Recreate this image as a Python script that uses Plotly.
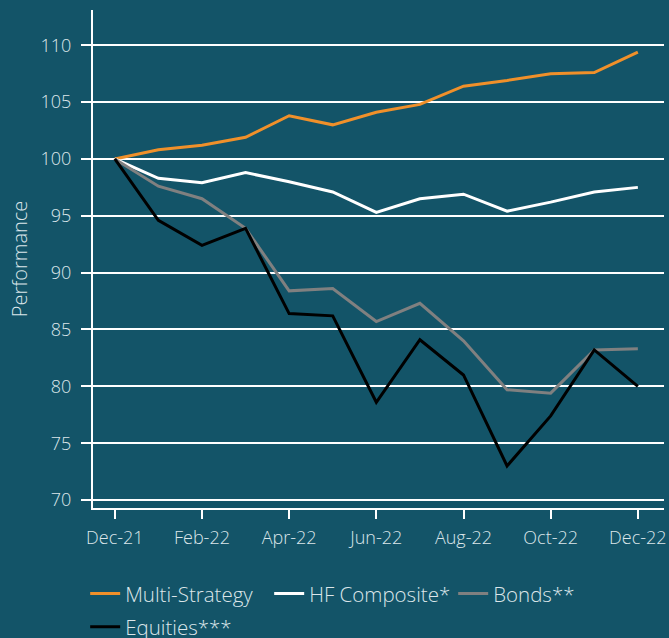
import plotly.graph_objects as go

months = ["Dec-21", "Jan-22", "Feb-22", "Mar-22", "Apr-22", "May-22", "Jun-22",
          "Jul-22", "Aug-22", "Sep-22", "Oct-22", "Nov-22", "Dec-22"]
multi_strategy = [100, 100.8, 101.2, 101.9, 103.8, 103.0, 104.1, 104.8, 106.4, 106.9, 107.5, 107.6, 109.4]
hf_composite = [100, 98.3, 97.9, 98.8, 98.0, 97.1, 95.3, 96.5, 96.9, 95.4, 96.2, 97.1, 97.5]
bonds = [100, 97.6, 96.5, 93.9, 88.4, 88.6, 85.7, 87.3, 84.0, 79.7, 79.4, 83.2, 83.3]
equities = [100, 94.6, 92.4, 93.9, 86.4, 86.2, 78.6, 84.1, 81.0, 73.0, 77.4, 83.2, 80.0]
y_ticks = [70, 75, 80, 85, 90, 95, 100, 105, 110]

BG = "#135468"
TXT = "#dce6ea"
FONT = "Open Sans"

fig = go.Figure()
series = [
    ("Multi-Strategy", multi_strategy, "#f0902a", "legend"),
    ("HF Composite*", hf_composite, "#ffffff", "legend"),
    ("Bonds**", bonds, "#808080", "legend"),
    ("Equities***", equities, "#000000", "legend2"),
]
for name, vals, col, leg in series:
    fig.add_trace(go.Scatter(x=months, y=vals, name=name, mode="lines",
                             line=dict(color=col, width=3), legend=leg))

legend_common = dict(orientation="h", xanchor="left", yanchor="top",
                     font=dict(family=FONT, size=20.5, color=TXT, weight=300),
                     bgcolor="rgba(0,0,0,0)", tracegroupgap=0, entrywidth=139)

fig.update_layout(
    width=669, height=638,
    paper_bgcolor=BG, plot_bgcolor=BG,
    margin=dict(l=93, r=5, t=10, b=130, autoexpand=False),
    font=dict(family=FONT, size=18, color=TXT, weight=300),
    showlegend=True,
    legend=dict(x=-0.0137, y=-0.132, **legend_common),
    legend2=dict(x=-0.0137, y=-0.1985, **legend_common),
)
fig.update_xaxes(
    type="category", categoryorder="array", categoryarray=months,
    range=[-0.5, 12.6], tickvals=months[::2], automargin=False,
    showgrid=False, showline=True, linecolor="white", linewidth=2,
    ticks="outside", ticklen=9, tickwidth=2, tickcolor="white", ticklabelstandoff=3,
    tickfont=dict(family=FONT, size=18, color=TXT, weight=300), zeroline=False,
)
fig.update_yaxes(
    range=[69.3, 113.1], tickvals=y_ticks, automargin=False,
    showgrid=True, gridcolor="white", gridwidth=1.5,
    showline=True, linecolor="white", linewidth=2,
    ticks="outside", ticklen=10, tickwidth=1.5, tickcolor="white", ticklabelstandoff=6,
    tickfont=dict(family=FONT, size=18, color=TXT, weight=300), zeroline=False,
    title=dict(text="Performance", font=dict(family=FONT, size=20, color=TXT, weight=300), standoff=8),
)

fig.write_html(
    "out.html",
    config={"displayModeBar": False},
    post_script="document.body.style.margin='0';document.body.style.background='%s';"
                "document.body.style.overflow='hidden';" % BG,
)
